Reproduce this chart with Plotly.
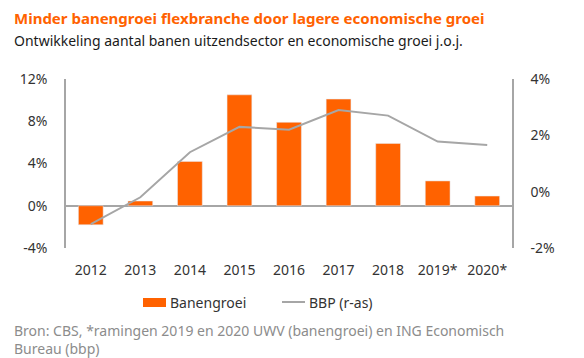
import plotly.graph_objects as go

years = ["2012", "2013", "2014", "2015", "2016", "2017", "2018", "2019*", "2020*"]
banengroei = [-1.8, 0.45, 4.2, 10.5, 7.9, 10.1, 5.9, 2.35, 0.92]
bbp = [-1.15, -0.2, 1.4, 2.3, 2.2, 2.9, 2.7, 1.78, 1.66]

left_ticks = [-4, 0, 4, 8, 12]
right_ticks = [-2, 0, 2, 4]

FONT = "Noto Sans"
ORANGE = "#FF6200"
GREY = "#A6A6A6"
O = 8  # page body margin offset
L, R, T, B = 66 - O, 512 - O, 79 - O, 248 - O
PW, PH = R - L, B - T


def py(y_screen):
    """paper y for a screen y coordinate"""
    return (B - (y_screen - O)) / PH


def px(x_screen):
    return ((x_screen - O) - L) / PW


fig = go.Figure()
fig.add_trace(go.Bar(x=years, y=banengroei, name="Banengroei", marker_color=ORANGE,
                     width=0.5, yaxis="y", showlegend=False))
fig.add_trace(go.Scatter(x=years, y=bbp, name="BBP (r-as)", mode="lines",
                         line=dict(color=GREY, width=2), yaxis="y2", showlegend=False))

fig.update_layout(
    width=584, height=358,
    margin=dict(l=L, r=584 - R, t=T, b=358 - B, autoexpand=False),
    paper_bgcolor="white", plot_bgcolor="white",
    font=dict(family=FONT, size=14, color="#333333"),
    showlegend=False,
    xaxis=dict(type="category", showline=False, ticks="", showgrid=False, automargin=False,
               ticklabelstandoff=12, tickfont=dict(size=14, color="#333333")),
    yaxis=dict(range=[-4, 12], tickvals=left_ticks,
               ticktext=[f"{v}%" for v in left_ticks], automargin=False,
               showgrid=False, zeroline=True, zerolinecolor=GREY, zerolinewidth=1.5,
               showline=True, linecolor=GREY, linewidth=1.5, ticks="",
               ticklabelstandoff=14, tickfont=dict(size=14, color="#333333")),
    yaxis2=dict(range=[-2, 4], tickvals=right_ticks,
                ticktext=[f"{v}%" for v in right_ticks], automargin=False,
                overlaying="y", side="right", showgrid=False, zeroline=False,
                showline=True, linecolor=GREY, linewidth=1.5, ticks="",
                ticklabelstandoff=14, tickfont=dict(size=14, color="#333333")),
    bargap=0.5,
)

# manual legend
fig.add_shape(type="rect", xref="paper", yref="paper", x0=px(143), x1=px(166),
              y0=py(307), y1=py(298), fillcolor=ORANGE, line=dict(width=0))
fig.add_shape(type="line", xref="paper", yref="paper", x0=px(282), x1=px(305),
              y0=py(302), y1=py(302), line=dict(color=GREY, width=2))
fig.add_annotation(text="Banengroei", xref="paper", yref="paper", x=px(168), y=py(302),
                   xanchor="left", yanchor="middle", showarrow=False,
                   font=dict(size=14, color="#333333", family=FONT))
fig.add_annotation(text="BBP (r-as)", xref="paper", yref="paper", x=px(307), y=py(302),
                   xanchor="left", yanchor="middle", showarrow=False,
                   font=dict(size=14, color="#333333", family=FONT))

fig.add_annotation(text="<b>Minder banengroei flexbranche door lagere economische groei</b>",
                   xref="paper", yref="paper", x=px(12), y=py(18),
                   xanchor="left", yanchor="middle", showarrow=False,
                   font=dict(size=15, color=ORANGE, family=FONT))
fig.add_annotation(text="Ontwikkeling aantal banen uitzendsector en economische groei j.o.j.",
                   xref="paper", yref="paper", x=px(12), y=py(41),
                   xanchor="left", yanchor="middle", showarrow=False,
                   font=dict(size=14, color="#1a1a1a", family=FONT))
fig.add_annotation(text="Bron: CBS, *ramingen 2019 en 2020 UWV (banengroei) en ING Economisch<br>Bureau (bbp)",
                   xref="paper", yref="paper", x=px(12), y=py(339),
                   xanchor="left", yanchor="middle", align="left", showarrow=False,
                   font=dict(size=14, color="#8C8C8C", family=FONT))

fig.write_html("out.html")
